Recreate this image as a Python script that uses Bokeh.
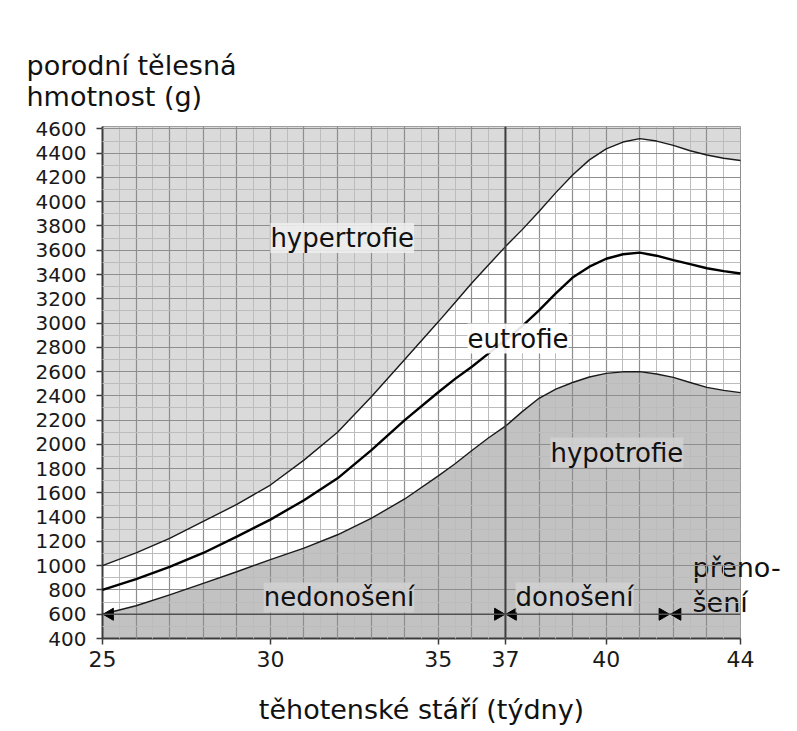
import math
from bokeh.plotting import figure
from bokeh.models import FixedTicker, Span, Label, Range1d, LinearAxis, Title
from bokeh.embed import file_html
from bokeh.resources import INLINE

# ---- data ----
weeks = [25, 26, 27, 28, 29, 30, 31, 32, 33, 34, 35, 35.5, 36, 36.5, 37, 37.5, 38, 38.5,
         39, 39.5, 40, 40.5, 41, 41.5, 42, 42.5, 43, 43.5, 44]
upper = [1000, 1105, 1225, 1365, 1505, 1665, 1870, 2100, 2390, 2700, 3010, 3170, 3330, 3480,
         3630, 3770, 3920, 4075, 4220, 4345, 4435, 4492, 4520, 4500, 4465, 4420, 4385, 4358, 4340]
middle = [800, 890, 990, 1105, 1240, 1380, 1540, 1720, 1950, 2200, 2430, 2540, 2640, 2750,
          2860, 2975, 3105, 3245, 3375, 3465, 3530, 3567, 3580, 3555, 3518, 3485, 3452, 3428, 3408]
lower = [600, 670, 760, 855, 950, 1050, 1145, 1255, 1390, 1550, 1740, 1840, 1950, 2055,
         2150, 2270, 2380, 2455, 2510, 2555, 2585, 2598, 2600, 2580, 2552, 2510, 2470, 2445, 2427]
x_ticks = [25, 30, 35, 37, 40, 44]
y_ticks = list(range(400, 4601, 200))
grid_weeks = list(range(25, 45))
term_week = 37
post_term_week = 41.9
arrow_weight = 600

Y_MIN, Y_MAX = 400, 4620
FONT = "DejaVu Sans"

p = figure(width=789, height=728, x_range=Range1d(25, 44), y_range=Range1d(Y_MIN, Y_MAX),
           output_backend="svg", toolbar_location=None,
           min_border_left=102, min_border_right=49, min_border_top=126, min_border_bottom=90)
p.background_fill_color = "white"
p.border_fill_color = "white"
p.outline_line_color = "#8c8c8c"
p.outline_line_width = 1

# shaded regions
p.varea(x=weeks, y1=upper, y2=[Y_MAX] * len(weeks), fill_color="#dadada")
p.varea(x=weeks, y1=[Y_MIN] * len(weeks), y2=lower, fill_color="#c2c2c2")

# grid (drawn over fills)
p.xgrid.ticker = FixedTicker(ticks=grid_weeks, minor_ticks=[w + 0.5 for w in grid_weeks[:-1]])
p.ygrid.ticker = FixedTicker(ticks=y_ticks, minor_ticks=[t + 100 for t in y_ticks[:-1]])
for g in (p.xgrid, p.ygrid):
    g.grid_line_color = "#8e8e8e"
    g.grid_line_width = 1.2
    g.minor_grid_line_color = "#bcbcbc"
    g.minor_grid_line_width = 1
    g.level = "guide"

# curves
r1 = p.line(weeks, upper, line_color="#1a1a1a", line_width=1.4)
r2 = p.line(weeks, middle, line_color="black", line_width=2.4)
r3 = p.line(weeks, lower, line_color="#1a1a1a", line_width=1.4)
for r in (r1, r2, r3):
    r.level = "annotation"

# term line and period line
p.add_layout(Span(location=term_week, dimension="height", line_color="#404040", line_width=2))
p.add_layout(Span(location=arrow_weight, dimension="width", line_color="#505050", line_width=1.6))

# arrow heads
d = 0.22
ax = [25 + d, term_week - d, term_week + d, post_term_week - d, post_term_week + d]
aang = [math.pi / 2, -math.pi / 2, math.pi / 2, -math.pi / 2, math.pi / 2]
ra = p.scatter(ax, [arrow_weight] * len(ax), marker="triangle", size=12, angle=aang,
               fill_color="black", line_color="black")
ra.level = "annotation"

# axes
p.xaxis.ticker = FixedTicker(ticks=x_ticks)
p.yaxis.ticker = FixedTicker(ticks=y_ticks)
for ax_ in (p.xaxis[0], p.yaxis[0]):
    ax_.axis_line_color = "#3c3c3c"
    ax_.axis_line_width = 2
    ax_.major_tick_line_color = "#3c3c3c"
    ax_.major_tick_line_width = 1.5
    ax_.major_tick_out = 6
    ax_.major_tick_in = 0
    ax_.minor_tick_line_color = None
    ax_.major_label_text_font = FONT
    ax_.major_label_text_color = "#1a1a1a"
p.yaxis.major_label_text_font_size = "20px"
p.xaxis.major_label_text_font_size = "22px"
p.yaxis.major_label_standoff = 10
p.xaxis.major_label_standoff = 6
p.xaxis.axis_label = "těhotenské stáří (týdny)"
p.xaxis.axis_label_text_font = FONT
p.xaxis.axis_label_text_font_size = "27px"
p.xaxis.axis_label_text_font_style = "normal"
p.xaxis.axis_label_text_color = "#111111"
p.xaxis.axis_label_standoff = 24

# y title (top-left, two lines)
p.add_layout(Title(text="porodní tělesná\nhmotnost (g)", align="left", offset=-76,
                   text_font=FONT, text_font_size="27px", text_font_style="normal",
                   text_color="#111111", standoff=30), "above")

# post-term label at right edge
post_labels = {985: "přeno-", 697: "šení"}
rax = LinearAxis(ticker=FixedTicker(ticks=list(post_labels.keys())),
                 major_label_overrides=post_labels,
                 axis_line_color=None, major_tick_line_color=None, minor_tick_line_color=None,
                 major_tick_out=0, major_tick_in=0, major_label_standoff=-48,
                 major_label_text_font=FONT, major_label_text_font_size="27px",
                 major_label_text_color="#111111")
p.add_layout(rax, "right")

# in-plot texts
def lab(text, x, y, size, bg=None):
    kw = {}
    if bg is not None:
        kw = dict(background_fill_color=bg, background_fill_alpha=0.9)
    p.add_layout(Label(x=x, y=y, text=text, text_font=FONT, text_font_size=size,
                       text_color="#111111", text_align="left", text_baseline="middle", **kw))

lab("hypertrofie", 30.0, 3700, "26px", bg="#ededed")
lab("eutrofie", 35.87, 2872, "26px", bg="white")
lab("hypotrofie", 38.34, 1933, "26px", bg="#d0d0d0")
lab("nedonošení", 29.8, 738, "26px", bg="#d0d0d0")
lab("donošení", 37.3, 738, "26px", bg="#d0d0d0")

open("out.html", "w").write(file_html(p, INLINE))
